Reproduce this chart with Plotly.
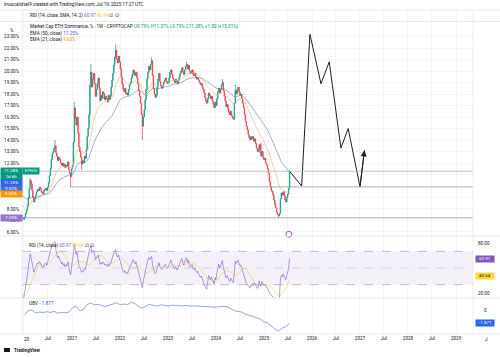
import pandas as pd
import numpy as np
import plotly.graph_objects as go

W, H = 500, 357
def px(x): return x / W
def py(y): return 1 - y / H

# ---------------- data (weekly closes, ETH dominance %) ----------------
start_date = "2019-07-01"
closes_2019 = [10.6, 10.2, 9.8, 9.4, 9.3, 9.0, 8.6, 8.4, 8.2, 8.0, 8.3, 8.8, 8.4, 8.5,
               8.6, 8.7, 8.4, 8.3, 8.2, 8.0, 8.1, 7.9, 7.7, 7.5, 7.3, 7.2, 7.1]
closes_2020 = [7.3, 7.6, 7.9, 8.3, 9.0, 9.8, 10.5, 10.2, 9.6, 9.0,
               8.6, 8.9, 9.2, 9.5, 9.7, 9.6, 9.9, 9.8, 9.5, 9.4,
               9.3, 9.6, 9.7, 9.8, 9.6, 9.9, 10.3, 10.9, 11.5, 12.3,
               12.8, 13.0, 13.3, 13.5, 12.9, 12.6, 12.2, 12.5, 12.3, 12.0,
               11.8, 12.0, 11.7, 11.9, 11.6, 11.8, 11.7, 12.1, 11.4, 11.1,
               10.8, 11.5]
closes_2021 = [11.8, 13.8, 16.8, 15.9, 15.3, 16.0, 14.6, 13.4, 13.0, 12.5,
               11.9, 12.2, 12.0, 12.6, 12.4, 13.2, 14.3, 15.0, 16.2, 18.8,
               19.9, 18.6, 19.3, 19.8, 18.9, 17.8, 18.4, 18.9, 19.4, 18.5,
               17.4, 17.9, 17.6, 18.2, 18.0, 17.5, 17.8, 17.6, 17.3, 17.9,
               17.5, 17.8, 18.6, 19.2, 19.8, 20.5, 21.2, 21.8, 21.0, 20.7,
               21.3, 20.8]
closes_2022 = [20.2, 19.5, 18.9, 18.4, 18.2, 18.5, 18.0, 18.1, 17.9, 18.4,
               18.8, 19.0, 19.4, 19.7, 20.1, 19.8, 19.6, 19.9, 19.4, 18.9,
               18.3, 17.8, 17.2, 16.2, 15.2, 16.0, 16.6, 17.5, 18.4, 19.3,
               19.9, 20.4, 20.1, 20.6, 20.9, 19.6, 18.5, 18.0, 17.7, 17.9,
               18.6, 19.3, 19.8, 19.1, 18.7, 18.5, 18.7, 19.0, 19.2, 19.4,
               19.1, 18.9]
closes_2023 = [19.0, 19.4, 19.9, 20.1, 19.7, 19.4, 19.2, 19.0, 19.3, 19.1,
               18.9, 19.2, 19.5, 19.8, 20.0, 20.3, 19.9, 19.7, 20.1, 20.4,
               20.6, 20.2, 20.5, 20.0, 19.8, 19.9, 20.1, 19.7, 19.6, 19.8,
               19.5, 19.3, 19.4, 19.2, 19.0, 18.8, 18.9, 18.6, 18.4, 18.1,
               17.7, 17.4, 17.2, 17.6, 18.1, 17.9, 17.6, 17.8, 17.4, 17.1,
               16.8, 17.3]
closes_2024 = [17.0, 17.6, 18.2, 18.5, 18.1, 18.4, 18.8, 19.0, 18.3, 17.8,
               17.4, 16.9, 17.1, 16.7, 16.4, 16.2, 16.5, 16.1, 15.9, 15.8,
               17.2, 18.3, 18.0, 18.4, 18.6, 18.2, 17.9, 18.0, 17.6, 17.2,
               16.8, 16.2, 15.6, 15.2, 14.9, 14.5, 14.2, 14.0, 14.3, 14.1,
               14.3, 13.9, 14.1, 13.7, 13.3, 13.0, 13.2, 13.6, 12.9, 12.6,
               13.0, 12.5, 12.3]
closes_2025 = [12.4, 12.0, 11.8, 11.5, 11.1, 10.4, 10.0, 9.6, 9.5, 9.2,
               8.8, 8.4, 8.1, 7.7, 7.5, 7.4, 7.6, 8.9, 9.4, 9.2,
               9.5, 9.2, 8.8, 8.6, 9.0, 9.3, 9.79, 11.28]

# visible wick extremes
wick_highs = {"2020-02-17": 10.7, "2020-08-24": 14.0, "2021-01-18": 17.3,
              "2021-05-24": 20.6, "2021-11-29": 22.3, "2022-08-29": 21.2,
              "2023-05-22": 20.8, "2024-02-19": 19.3, "2024-05-27": 18.8,
              "2024-12-09": 13.8, "2025-07-14": 11.37}
wick_lows = {"2020-12-21": 9.92, "2021-03-15": 11.4, "2022-06-20": 14.0,
             "2025-04-21": 7.23, "2025-07-14": 9.79}

# OBV (trillions), read every 4 weeks from 2020-01-06
obv_start = "2020-01-06"
obv_values = [-0.72, -0.1, 0.0, -0.4, -0.3, -0.35, -0.25, -0.35, -0.2, -0.45,
              -0.35, -0.4, -0.3, 0.3, 0.55, -0.1, 0.1, 0.8, 1.0, 0.75,
              0.8, 0.6, 0.5, 0.7, 0.9, 1.05, 0.75, 0.85, 0.8, 1.15,
              0.9, 0.5, 0.25, 0.6, 0.8, 0.65, 0.55, 0.75, 0.7, 0.6,
              0.7, 0.65, 0.55, 0.6, 0.65, 0.55, 0.6, 0.55, 0.5, 0.55,
              0.5, 0.45, 0.4, 0.5, 0.45, 0.5, 0.2, -0.1, -0.2, -0.3,
              -0.6, -0.75, -0.85, -1.1, -1.3, -1.7, -1.85, -2.3, -2.7, -3.05,
              -2.6, -2.4, -1.87]

# hand-drawn projection path
draw_dates = ["2025-07-14", "2025-10-14", "2025-12-16", "2026-03-10", "2026-05-12",
              "2026-08-09", "2026-10-03", "2027-01-01"]
draw_values = [11.28, 10.0, 23.2, 18.9, 20.8, 13.3, 15.0, 9.93]
arrow_end_date = "2027-02-04"
arrow_end_value = 13.1

hline_levels = {"current": 11.28, "ray": 9.92, "low": 7.23}
ray_start = "2020-12-21"

tick_dates = [f"{y}-{m}-01" for y in range(2020, 2030) for m in ("01", "07")][:-1]
tick_text = ["" if d == "2020-01-01" else (d[:4] if d[5:7] == "01" else "Jul") for d in tick_dates]
price_ticks = list(range(6, 24))
hidden_price_labels = [9, 10, 11]

# ---------------- derived series ----------------
closes = (closes_2019 + closes_2020 + closes_2021 + closes_2022 +
          closes_2023 + closes_2024 + closes_2025)
dates = pd.date_range(start_date, periods=len(closes), freq="7D")
s = pd.Series(closes, index=dates)
opens = s.shift(1).fillna(s.iloc[0])
highs = np.maximum(opens, s)
lows = np.minimum(opens, s)
for d, v in wick_highs.items():
    highs[pd.Timestamp(d)] = v
for d, v in wick_lows.items():
    lows[pd.Timestamp(d)] = v

ema50 = s.ewm(span=50, adjust=False).mean()
ema21 = s.ewm(span=21, adjust=False).mean()
delta = s.diff()
gain = delta.clip(lower=0).ewm(alpha=1/14, adjust=False).mean()
loss = (-delta.clip(upper=0)).ewm(alpha=1/14, adjust=False).mean()
rsi = 100 - 100 / (1 + gain / loss)
rsi_ma = rsi.rolling(14).mean()
obv_dates = pd.date_range(obv_start, periods=len(obv_values), freq="28D")

GREEN = "#089981"
RED = "#F23645"
BLUE = "#2962FF"
ORANGE = "#FF9800"
PURPLE = "#7E57C2"
YELLOW = "#F7C948"
TXT = "#131722"
GRID = "#f0f3fa"
FONT = "Roboto"
FS = 4.6
HS = 4.6

fig = go.Figure()
fig.add_trace(go.Candlestick(
    x=dates, open=opens, high=highs, low=lows, close=s,
    increasing=dict(line=dict(color=GREEN, width=0.7), fillcolor=GREEN),
    decreasing=dict(line=dict(color=RED, width=0.7), fillcolor=RED),
    whiskerwidth=0, showlegend=False, hoverinfo="skip", xaxis="x", yaxis="y"))
fig.add_trace(go.Scatter(x=dates, y=ema50, mode="lines", line=dict(color="#5d7db0", width=0.6),
                         xaxis="x", yaxis="y", showlegend=False, hoverinfo="skip"))
fig.add_trace(go.Scatter(x=dates, y=ema21, mode="lines", line=dict(color="#f5b06a", width=0.6),
                         xaxis="x", yaxis="y", showlegend=False, hoverinfo="skip"))
fig.add_trace(go.Scatter(x=draw_dates + [arrow_end_date], y=draw_values + [arrow_end_value],
                         mode="lines", line=dict(color="#1e1e1e", width=1.0),
                         xaxis="x", yaxis="y", showlegend=False, hoverinfo="skip"))
fig.add_trace(go.Scatter(x=["2025-07-09"], y=[5.8], mode="markers",
                         marker=dict(symbol="circle-open", size=6, color="#9c27b0", line=dict(width=0.8)),
                         cliponaxis=False, xaxis="x", yaxis="y", showlegend=False, hoverinfo="skip"))
# RSI
fig.add_trace(go.Scatter(x=dates, y=rsi_ma, mode="lines", line=dict(color=YELLOW, width=0.6),
                         xaxis="x", yaxis="y2", showlegend=False, hoverinfo="skip"))
fig.add_trace(go.Scatter(x=dates, y=rsi, mode="lines", line=dict(color=PURPLE, width=0.6),
                         xaxis="x", yaxis="y2", showlegend=False, hoverinfo="skip"))
# OBV
fig.add_trace(go.Scatter(x=obv_dates, y=obv_values, mode="lines", line=dict(color="#4a6fd1", width=0.6),
                         xaxis="x", yaxis="y3", showlegend=False, hoverinfo="skip"))
# empty top pane (grid only)
fig.add_trace(go.Scatter(x=[dates[0]], y=[0.5], mode="markers", marker=dict(opacity=0),
                         xaxis="x", yaxis="y4", showlegend=False, hoverinfo="skip"))

XL, XR = 22, 473
shapes = []
shapes.append(dict(type="rect", xref="paper", yref="y2", x0=px(XL), x1=px(XR), y0=30, y1=70,
                   fillcolor="rgba(126,87,194,0.09)", line=dict(width=0), layer="below"))
for lvl, c in ((70, "#9598a1"), (50, "#c3c5cc"), (30, "#9598a1")):
    shapes.append(dict(type="line", xref="paper", yref="y2", x0=px(XL), x1=px(XR), y0=lvl, y1=lvl,
                       line=dict(color=c, width=0.6, dash="dash")))
shapes.append(dict(type="line", xref="paper", yref="y", x0=px(XL), x1=px(XR),
                   y0=hline_levels["current"], y1=hline_levels["current"],
                   line=dict(color="#a9b8c9", width=0.8)))
shapes.append(dict(type="line", xref="x", yref="y", x0=ray_start, x1="2029-06-01",
                   y0=hline_levels["ray"], y1=hline_levels["ray"], line=dict(color="#8fa3ba", width=0.8)))
shapes.append(dict(type="line", xref="paper", yref="y", x0=px(XL), x1=px(XR),
                   y0=hline_levels["low"], y1=hline_levels["low"], line=dict(color="#9a93b0", width=0.8)))
for yy in (10, 21.5, 236, 298, 334):
    shapes.append(dict(type="line", xref="paper", yref="paper", x0=0, x1=1, y0=py(yy), y1=py(yy),
                       line=dict(color="#e0e3eb", width=0.8)))
shapes.append(dict(type="line", xref="paper", yref="paper", x0=px(XR), x1=px(XR), y0=py(334), y1=py(10),
                   line=dict(color="#e0e3eb", width=0.6)))
shapes.append(dict(type="line", xref="paper", yref="paper", x0=px(XL), x1=px(XL), y0=py(334), y1=py(10),
                   line=dict(color="#e0e3eb", width=0.6)))
shapes.append(dict(type="rect", xref="paper", yref="paper", x0=px(4), x1=px(10), y0=py(352), y1=py(348),
                   fillcolor="#131722", line=dict(width=0)))

ann = []
def text(x, y, t, size=FS, color=TXT, xanchor="left", **kw):
    ann.append(dict(x=px(x), y=py(y), xref="paper", yref="paper", text=t, showarrow=False,
                    xanchor=xanchor, yanchor="middle", font=dict(family=FONT, size=size, color=color), **kw))

def box(x, y, t, bg, fg="white", width=20):
    ann.append(dict(x=px(x), y=py(y), xref="paper", yref="paper", text=t, showarrow=False,
                    xanchor="center", yanchor="middle", bgcolor=bg, borderpad=0.4, width=width,
                    font=dict(family=FONT, size=4.4, color=fg)))

text(2, 5, "linuscalidvel9 created with TradingView.com, Jul 19, 2025 17:27 UTC", size=HS)
text(28, 15.5, f"RSI (14, close, SMA, 14, 2) <span style='color:{PURPLE}'>60.97</span> "
               f"<span style='color:{YELLOW}'>40.64</span> ∅ ∅", size=HS)
text(8, 30, "%")
text(28, 27, "Market Cap ETH Dominance, % · 1W · CRYPTOCAP "
             f"<span style='color:{GREEN}'>O9.79% H11.37% L9.79% C11.28% +1.50 (+15.31%)</span>", size=HS)
text(28, 33.5, f"EMA (50, close) <span style='color:{BLUE}'>11.25%</span>", size=HS)
text(28, 39.5, f"EMA (21, close) <span style='color:{ORANGE}'>9.60%</span>", size=HS)
text(27, 245, f"RSI (14, close) <span style='color:{PURPLE}'>60.97</span> "
              f"<span style='color:{YELLOW}'>40.64</span> ∅ ∅", size=HS)
text(27, 303, f"OBV <span style='color:{BLUE}'>−1.87T</span>", size=HS)
text(27, 339.5, "20", xanchor="center")
text(486, 339.5, "J", xanchor="center")
text(12, 350, "<b>TradingView</b>", size=HS)

box(11, 171, "11.28%", GREEN)
box(31, 171, "ETH.D", GREEN, width=15)
box(11, 176.5, "1d 6h", GREEN)
box(11, 182.5, "11.25%", BLUE)
box(11, 188.5, "9.92%", "#3f6fd8")
box(11, 194.5, "9.60%", ORANGE)
box(11, 218, "7.23%", "#9575cd")
box(485, 259, "60.97", PURPLE, width=17)
box(485, 276, "40.64", "#FDD835", fg=TXT, width=17)
box(485, 323, "−1.87T", BLUE, width=17)

ann.append(dict(x=arrow_end_date, y=arrow_end_value, xref="x", yref="y",
                ax=draw_dates[-1], ay=draw_values[-1], axref="x", ayref="y",
                showarrow=True, arrowhead=2, arrowsize=1.2, arrowwidth=1.0, arrowcolor="#1e1e1e", text=""))

axis_font = dict(family=FONT, size=FS, color=TXT)
fig.update_layout(
    width=W, height=H, margin=dict(l=0, r=0, t=0, b=0),
    paper_bgcolor="white", plot_bgcolor="white", showlegend=False,
    shapes=shapes, annotations=ann,
    xaxis=dict(domain=[px(XL), px(XR)], range=["2019-12-17", "2029-05-10"], anchor="y3",
               tickvals=tick_dates, ticktext=tick_text, tickfont=axis_font,
               showgrid=True, gridcolor=GRID, gridwidth=0.8, zeroline=False, showline=False,
               ticks="", rangeslider=dict(visible=False), fixedrange=True),
    yaxis=dict(domain=[py(236), py(21.5)], range=[5.65, 24.31], anchor="x", side="left",
               tickvals=price_ticks,
               ticktext=["" if v in hidden_price_labels else f"{v}.00%" for v in price_ticks],
               tickfont=axis_font, ticklabelstandoff=2,
               showgrid=True, gridcolor=GRID, gridwidth=0.8, zeroline=False, ticks=""),
    yaxis2=dict(domain=[py(298), py(236)], range=[14, 88.4], anchor="x", side="right",
                tickvals=[20, 80], ticktext=["20.00", "80.00"], tickfont=axis_font,
                showgrid=False, zeroline=False, ticks="", ticklabelstandoff=4),
    yaxis3=dict(domain=[py(334), py(298)], range=[-3.45, 1.73], anchor="x", side="right",
                tickvals=[0], ticktext=["0"], tickfont=axis_font,
                showgrid=False, zeroline=False, ticks="", ticklabelstandoff=10),
    yaxis4=dict(domain=[py(21.5), py(10)], range=[0, 1], anchor="x", showticklabels=False,
                showgrid=False, zeroline=False, ticks=""),
)
fig.write_html("out.html", config={"displayModeBar": False, "staticPlot": True},
               post_script="document.body.style.margin='0';document.body.style.overflow='hidden';")
